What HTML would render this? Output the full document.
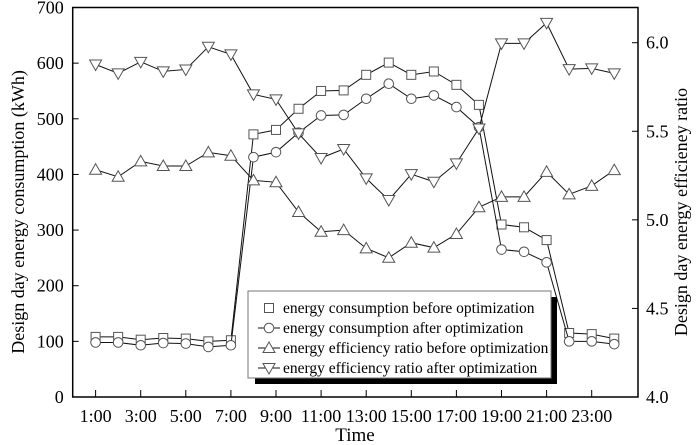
<!DOCTYPE html>
<html><head><meta charset="utf-8"><style>
body{margin:0;background:#fff}
svg{display:block;font-family:"Liberation Serif",serif}
</style></head><body>
<svg id="c" width="699" height="445" viewBox="0 0 699 445"></svg>
<script>
const hours=[1,2,3,4,5,6,7,8,9,10,11,12,13,14,15,16,17,18,19,20,21,22,23,24];
const xTickLabels=["1:00","3:00","5:00","7:00","9:00","11:00","13:00","15:00","17:00","19:00","21:00","23:00"];
const yLeftTicks=[0,100,200,300,400,500,600,700];
const yRightTicks=["4.0","4.5","5.0","5.5","6.0"];
const consBefore=[108,108,103,106,105,100,102,472,480,518,550,551,579,601,579,585,561,525,310,305,282,115,113,105];
const consAfter=[98,98,93,97,96,90,93,431,440,475,506,507,536,563,536,542,521,485,265,261,242,100,100,95];
const ratioBefore=[5.283,5.243,5.330,5.304,5.304,5.381,5.362,5.223,5.212,5.044,4.933,4.942,4.839,4.786,4.871,4.843,4.920,5.071,5.130,5.130,5.271,5.144,5.192,5.281];
const ratioAfter=[5.877,5.827,5.892,5.838,5.849,5.977,5.934,5.708,5.680,5.488,5.349,5.400,5.234,5.112,5.258,5.215,5.319,5.516,5.996,5.996,6.112,5.851,5.855,5.827];
const L=72.7,R=638,T=7.5,B=397;
const X=h=>95.6+(h-1)*22.55;
const YL=v=>B-v*(B-T)/700;
const YR=v=>B-(v-4)*(B-42.7)/2;
const svg=document.getElementById('c');const NS='http://www.w3.org/2000/svg';
function el(t,a,p){const e=document.createElementNS(NS,t);for(const k in a)e.setAttribute(k,a[k]);(p||svg).appendChild(e);return e;}
let g=el('rect',{x:L,y:T,width:R-L,height:B-T,fill:'none',stroke:'#000','stroke-width':1.5});

yLeftTicks.forEach(v=>{const y=YL(v);el('line',{x1:L,x2:L+6,y1:y,y2:y,stroke:'#000'});
 const t=el('text',{x:L-9,y:y+6,'text-anchor':'end','font-size':18});t.textContent=v;
 });
yRightTicks.forEach(s=>{const y=YR(+s);el('line',{x1:R-6,x2:R,y1:y,y2:y,stroke:'#000'});
 const t=el('text',{x:R+8,y:y+6,'font-size':18});t.textContent=s;
 });
xTickLabels.forEach((s,i)=>{const x=X(1+2*i);el('line',{x1:x,x2:x,y1:B,y2:B-7,stroke:'#000'});
 const t=el('text',{x:x,y:B+25,'text-anchor':'middle','font-size':18});t.textContent=s;
 });
let t=el('text',{x:355,y:441,'text-anchor':'middle','font-size':19});t.textContent='Time';

t=el('text',{x:0,y:0,'text-anchor':'middle','font-size':18,transform:'translate(24,212) rotate(-90)'});t.textContent='Design day energy consumption  (kWh)';

t=el('text',{x:0,y:0,'text-anchor':'middle','font-size':18,transform:'translate(687,212) rotate(-90)'});t.textContent='Design day energy efficieney ratio';

function marker(kind,x,y,p){const c={fill:'#fff',stroke:'#555','stroke-width':1};
 if(kind==='sq')return el('rect',Object.assign({x:x-4.5,y:y-4.5,width:9,height:9},c),p);
 if(kind==='ci')return el('circle',Object.assign({cx:x,cy:y,r:4.8},c),p);
 if(kind==='up')return el('polygon',Object.assign({points:`${x-6},${y+4.5} ${x+6},${y+4.5} ${x},${y-6}`},c),p);
 return el('polygon',Object.assign({points:`${x-6},${y-4.5} ${x+6},${y-4.5} ${x},${y+6}`},c),p);}
function series(name,vals,ys,kind){const gg=el('g',{});
 
 el('polyline',{points:vals.map((v,i)=>X(hours[i])+','+ys(v)).join(' '),fill:'none',stroke:'#111','stroke-width':1},gg);
 vals.forEach((v,i)=>marker(kind,X(hours[i]),ys(v),gg));}
series('series-consumption-before',consBefore,YL,'sq');
series('series-consumption-after',consAfter,YL,'ci');
series('series-ratio-before',ratioBefore,YR,'up');
series('series-ratio-after',ratioAfter,YR,'dn');
const lg=el('g',{});
el('rect',{x:255,y:297,width:302,height:87,fill:'#000'},lg);
el('rect',{x:248,y:291,width:303,height:87,fill:'#fff',stroke:'#777'},lg);
const labs=['energy consumption before optimization','energy consumption after optimization','energy efficiency ratio before optimization','energy efficiency ratio after optimization'];
const kinds=['sq','ci','up','dn'];
labs.forEach((s,i)=>{const y=308+i*20;
 if(i>0)el('line',{x1:258,x2:280,y1:y,y2:y,stroke:'#111'},lg);
 marker(kinds[i],269,y,lg);
 const tt=el('text',{x:283,y:y+5,'font-size':15.5},lg);tt.textContent=s;
 });
</script>
</body></html>
